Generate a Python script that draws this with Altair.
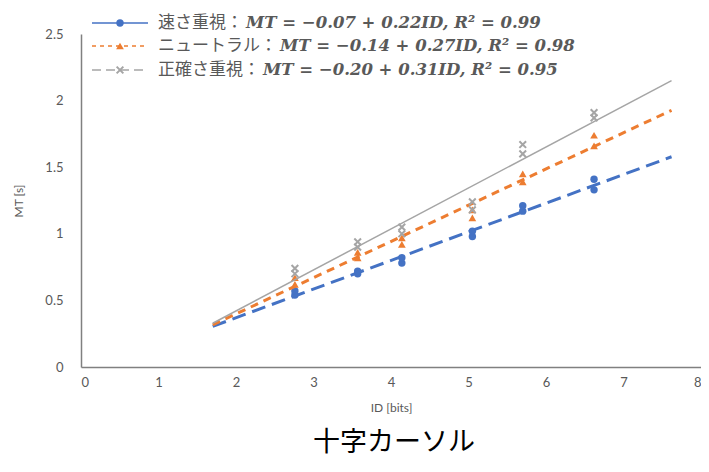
import altair as alt
import pandas as pd

# ---- data ----
ids = [2.76, 2.76, 3.57, 3.57, 4.14, 4.14, 5.05, 5.05, 5.70, 5.70, 6.62, 6.62]
mt_speed = [0.54, 0.57, 0.70, 0.72, 0.78, 0.82, 0.98, 1.02, 1.17, 1.21, 1.33, 1.41]
mt_neutral = [0.62, 0.67, 0.82, 0.86, 0.92, 0.97, 1.12, 1.18, 1.39, 1.45, 1.66, 1.74]
mt_accuracy = [0.70, 0.74, 0.90, 0.94, 1.00, 1.05, 1.18, 1.24, 1.60, 1.67, 1.87, 1.91]

series_names = ["速さ重視：", "ニュートラル：", "正確さ重視："]
equations = [
    "MT = −0.07 + 0.22ID,  R² = 0.99",
    "MT = −0.14 + 0.27ID,  R² = 0.98",
    "MT = −0.20 + 0.31ID,  R² = 0.95",
]
trend_extent = [1.70, 7.62]
x_ticks = [0, 1, 2, 3, 4, 5, 6, 7, 8]
y_ticks = [0, 0.5, 1, 1.5, 2, 2.5]
chart_title = "十字カーソル"
x_title = "ID [bits]"
y_title = "MT [s]"

# ---- styling ----
W, H = 620, 333
BLUE, ORANGE, GREY = "#4472C4", "#ED7D31", "#A5A5A5"
TXT = "#595959"
AXC = "#808080"
X_SHAPE = "M-1,-1L1,1M-1,1L1,-1"

xscale = alt.Scale(domain=[0, 8], nice=False, zero=False)
yscale = alt.Scale(domain=[0, 2.5], nice=False)

X = alt.X("ID:Q", scale=xscale, axis=alt.Axis(
    values=x_ticks, title=x_title, ticks=False, grid=False,
    domainColor=AXC, domainWidth=1.5, labelColor=TXT, labelFont="Lato",
    labelFontSize=13, labelPadding=9, titleFont="Lato", titleFontSize=12,
    titleColor=TXT, titleFontWeight="normal", titlePadding=13))
Y = alt.Y("MT:Q", scale=yscale, axis=alt.Axis(
    values=y_ticks, format="~g", title=y_title, ticks=False, grid=False,
    domainColor=AXC, domainWidth=1.5, labelColor=TXT, labelFont="Lato",
    labelFontSize=13, labelPadding=18, titleFont="Lato", titleFontSize=12,
    titleColor=TXT, titleFontWeight="normal", titlePadding=19))

series = [
    (mt_speed, BLUE, "circle", True, 55, [14, 7], 3, None),
    (mt_neutral, ORANGE, "triangle-up", True, 60, [8, 6], 3, [4, 4]),
    (mt_accuracy, GREY, X_SHAPE, False, 45, None, 1.5, [9, 5]),
]

layers = []
leg_rows_y = [-11, 12, 36]
for i, (vals, col, shape, filled, size, dash, lw, legdash) in enumerate(series):
    df = pd.DataFrame({"ID": ids, "MT": vals})
    line_kw = dict(color=col, strokeWidth=lw, clip=False)
    if dash:
        line_kw["strokeDash"] = dash
    trend = alt.Chart(df).transform_regression(
        "ID", "MT", extent=trend_extent).mark_line(**line_kw).encode(x=X, y=Y)
    if filled:
        pm = alt.Chart(df).mark_point(shape=shape, filled=True, color=col,
                                      size=size, opacity=1)
    else:
        pm = alt.Chart(df).mark_point(shape=shape, filled=False, color=col,
                                      size=size, strokeWidth=2, opacity=1)
    pts = pm.encode(x=X, y=Y)
    layers += [trend, pts]

# ---- legend (drawn manually) ----
for i, (vals, col, shape, filled, size, dash, lw, legdash) in enumerate(series):
    ly = leg_rows_y[i]
    rkw = dict(color=col, strokeWidth=1.5)
    if legdash:
        rkw["strokeDash"] = legdash
    one = pd.DataFrame({"k": [0]})
    rule = alt.Chart(one).mark_rule(**rkw).encode(
        x=alt.value(11), x2=alt.value(67), y=alt.value(ly))
    if filled:
        lp = alt.Chart(one).mark_point(shape=shape, filled=True, color=col,
                                       size=size, opacity=1)
    else:
        lp = alt.Chart(one).mark_point(shape=shape, filled=False, color=col,
                                       size=size, strokeWidth=2, opacity=1)
    lp = lp.encode(x=alt.value(39), y=alt.value(ly))
    jp_size = 17
    jp = alt.Chart(pd.DataFrame({"t": [series_names[i]]})).mark_text(
        font="Noto Sans CJK JP", fontSize=jp_size, color=TXT, align="left",
        baseline="middle").encode(text="t:N", x=alt.value(77), y=alt.value(ly))
    eq_x = 77 + jp_size * len(series_names[i]) + 3
    eq = alt.Chart(pd.DataFrame({"t": [equations[i]]})).mark_text(
        font="DejaVu Serif", fontSize=16.5, fontStyle="italic", fontWeight="bold",
        color=TXT, align="left", baseline="middle").encode(
        text="t:N", x=alt.value(eq_x), y=alt.value(ly))
    layers += [rule, lp, jp, eq]

title = alt.Chart(pd.DataFrame({"t": [chart_title]})).mark_text(
    font="Noto Sans CJK JP", fontSize=27, color="#000000", align="center",
    baseline="middle").encode(text="t:N", x=alt.value(313), y=alt.value(409))
layers.append(title)

chart = alt.layer(*layers).properties(
    width=W, height=H,
    autosize=alt.AutoSizeParams(type="none"),
    padding={"left": 73, "top": 26, "right": 0, "bottom": 97},
).configure_view(stroke=None)

chart.save("out.html", embed_options={"renderer": "svg", "actions": False})
